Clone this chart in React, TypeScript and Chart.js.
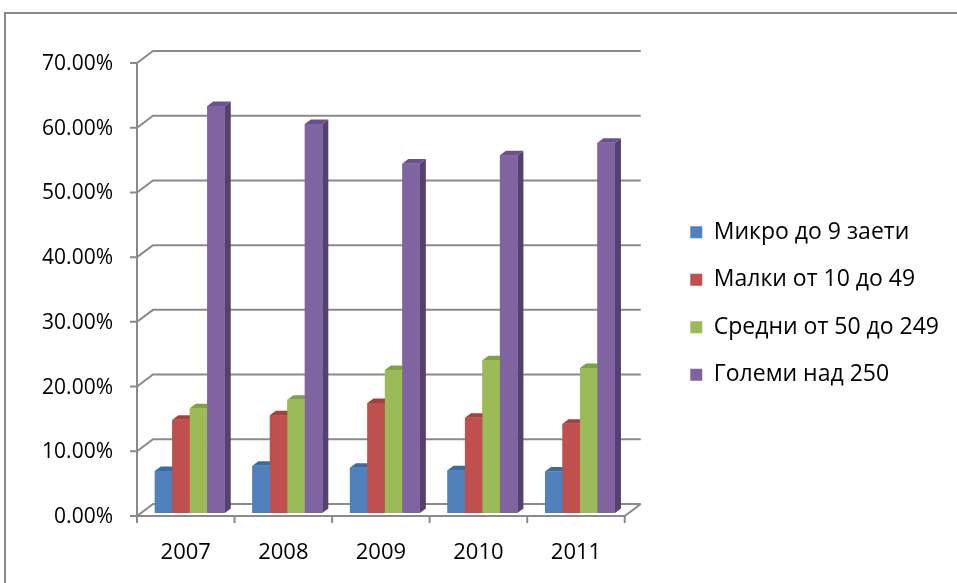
import React, { useEffect, useRef } from 'react';
import { Chart, registerables } from 'chart.js';

Chart.register(...registerables);

// ---- data ----
const years = ['2007', '2008', '2009', '2010', '2011'];
const seriesNames = ['Микро до 9 заети', 'Малки от 10 до 49', 'Средни от 50 до 249', 'Големи над 250'];
const micro = [6.5, 7.3, 7.0, 6.6, 6.4];
const small = [14.4, 15.1, 17.0, 14.7, 13.8];
const medium = [16.2, 17.5, 22.1, 23.6, 22.4];
const large = [62.9, 60.1, 54.0, 55.3, 57.2];
const yTicks = [0, 10, 20, 30, 40, 50, 60, 70];

// ---- styles ----
const FRONT_COLORS = ['#4F81BD', '#C0504D', '#9BBB59', '#8064A2'];
const TOP_COLORS = ['#3F6A9E', '#A3413F', '#80A044', '#6A5190'];
const SIDE_COLORS = ['#355A88', '#8C3735', '#6C8A38', '#55416F'];
const GRID = '#8a8a8a';
const FONT = "'Open Sans', 'DejaVu Sans', sans-serif";
const FRONT = { dx: -4, dy: 3 };
const BACK = { dx: 12, dy: -9 };
const DEPTH = { dx: 6, dy: 4.5 };

const threeD = {
  id: 'threeD',
  beforeDatasetsDraw(chart: any) {
    const { ctx } = chart;
    const x = chart.scales.x;
    const y = chart.scales.y;
    const left = x.left;
    const right = x.right;
    const yTop = y.getPixelForValue(yTicks[yTicks.length - 1]);
    const yBot = y.getPixelForValue(0);
    ctx.save();
    ctx.strokeStyle = GRID;
    ctx.lineWidth = 2;
    yTicks.forEach((v) => {
      const py = y.getPixelForValue(v);
      ctx.beginPath();
      ctx.moveTo(left + FRONT.dx - 7, py + FRONT.dy);
      ctx.lineTo(left + FRONT.dx, py + FRONT.dy);
      ctx.lineTo(left + BACK.dx, py + BACK.dy);
      ctx.lineTo(right + BACK.dx, py + BACK.dy);
      ctx.stroke();
    });
    ctx.beginPath();
    ctx.moveTo(left + FRONT.dx, yTop + FRONT.dy);
    ctx.lineTo(left + FRONT.dx, yBot + FRONT.dy);
    ctx.lineTo(right + FRONT.dx, yBot + FRONT.dy);
    ctx.lineTo(right + BACK.dx, yBot + BACK.dy);
    ctx.stroke();
    const n = years.length;
    const step = n > 1 ? x.getPixelForValue(1) - x.getPixelForValue(0) : right - left;
    for (let i = 0; i <= n; i++) {
      const px = x.getPixelForValue(0) - step / 2 + i * step + FRONT.dx;
      ctx.beginPath();
      ctx.moveTo(px, yBot + FRONT.dy);
      ctx.lineTo(px, yBot + FRONT.dy + 7);
      ctx.stroke();
    }
    ctx.restore();
  },
  afterDatasetsDraw(chart: any) {
    const { ctx } = chart;
    const metas = chart.data.datasets.map((_: any, i: number) => chart.getDatasetMeta(i));
    ctx.save();
    for (let j = 0; j < years.length; j++) {
      metas.forEach((meta: any, i: number) => {
        const bar = meta.data[j];
        if (!bar) return;
        const p = bar.getProps(['x', 'y', 'base', 'width'], true);
        const l = p.x - p.width / 2;
        const r = p.x + p.width / 2;
        const t = p.y;
        const b = p.base;
        ctx.fillStyle = SIDE_COLORS[i];
        ctx.beginPath();
        ctx.moveTo(r, t);
        ctx.lineTo(r + DEPTH.dx, t - DEPTH.dy);
        ctx.lineTo(r + DEPTH.dx, b - DEPTH.dy);
        ctx.lineTo(r, b);
        ctx.closePath();
        ctx.fill();
        ctx.fillStyle = TOP_COLORS[i];
        ctx.beginPath();
        ctx.moveTo(l, t);
        ctx.lineTo(l + DEPTH.dx, t - DEPTH.dy);
        ctx.lineTo(r + DEPTH.dx, t - DEPTH.dy);
        ctx.lineTo(r, t);
        ctx.closePath();
        ctx.fill();
        bar.draw(ctx);
      });
    }
    ctx.restore();
  },
};

const hiddenAxis = (pos: string, size: number) => ({
  type: 'linear',
  position: pos,
  display: true,
  grid: { display: false, drawTicks: false },
  border: { display: false },
  ticks: { display: false },
  afterFit(scale: any) {
    if (pos === 'top' || pos === 'bottom') scale.height = size;
    else scale.width = size;
  },
});

export default function App() {
  const canvasRef = useRef<HTMLCanvasElement | null>(null);

  useEffect(() => {
    if (!canvasRef.current) return;
    const seriesValues = [micro, small, medium, large];
    const chart = new Chart(canvasRef.current, {
      type: 'bar',
      data: {
        labels: years,
        datasets: seriesNames.map((name, i) => ({
          label: name,
          data: seriesValues[i],
          backgroundColor: FRONT_COLORS[i],
          borderWidth: 0,
          categoryPercentage: 0.717,
          barPercentage: 1,
        })),
      },
      options: {
        responsive: false,
        animation: false,
        layout: { padding: { left: 0, top: 30, right: 8, bottom: 6 } },
        plugins: {
          tooltip: { enabled: false },
          legend: {
            position: 'right',
            maxWidth: 400,
            labels: {
              boxWidth: 12,
              boxHeight: 12,
              padding: 24.5,
              color: '#000',
              font: { family: FONT, size: 23 },
            },
          },
        },
        scales: {
          x: {
            grid: { display: false, drawTicks: false },
            border: { display: false },
            ticks: { color: '#000', font: { family: FONT, size: 22 }, padding: 27, labelOffset: -4 },
            afterFit(scale: any) {
              scale.height = 64;
            },
          },
          y: {
            min: 0,
            max: 70,
            grid: { display: false, drawTicks: false },
            border: { display: false },
            ticks: {
              stepSize: 10,
              color: '#000',
              font: { family: FONT, size: 21 },
              padding: 28,
              labelOffset: 4,
              callback: (v: any) => Number(v).toFixed(2) + '%',
            },
            afterFit(scale: any) {
              scale.width = 141;
            },
          },
          spacerRight: hiddenAxis('right', 37) as any,
          spacerTop: hiddenAxis('top', 30) as any,
        },
      },
      plugins: [threeD],
    });
    return () => chart.destroy();
  }, []);

  return (
    <div style={{ position: 'fixed', left: 0, top: 0, width: 957, height: 583, overflow: 'hidden', background: '#fff' }}>
      <div
        style={{
          position: 'absolute',
          left: 4,
          top: 12,
          width: 2000,
          height: 2000,
          border: '2px solid #8a8a8a',
          boxSizing: 'border-box',
        }}
      />
      <canvas ref={canvasRef} width={957} height={583} style={{ position: 'absolute', left: 0, top: 0 }} />
    </div>
  );
}
